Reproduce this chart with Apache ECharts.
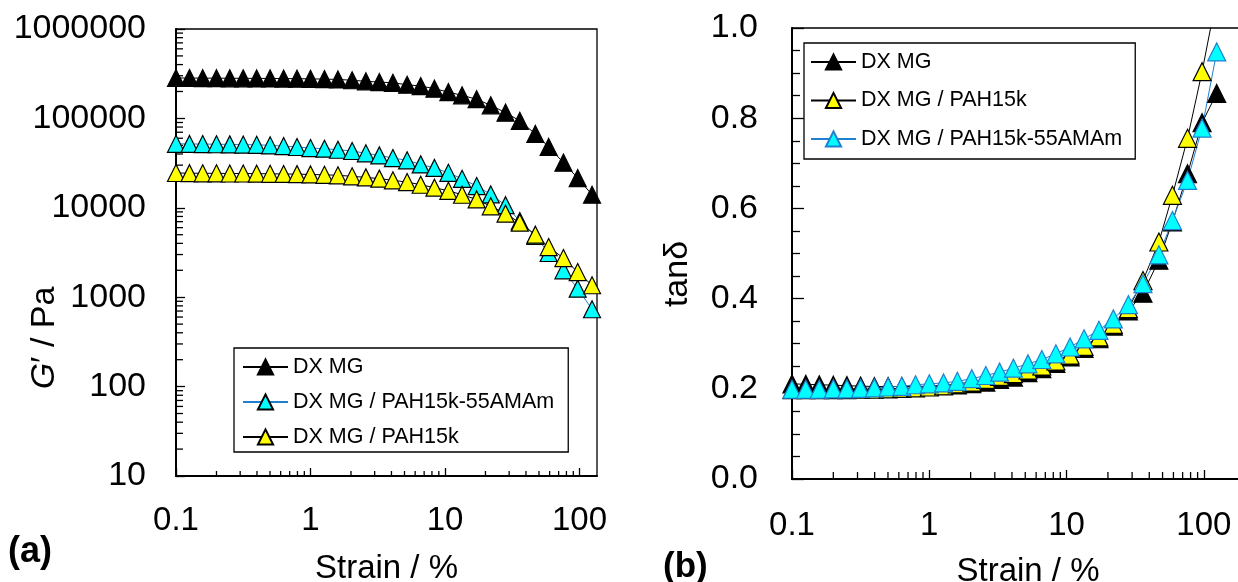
<!DOCTYPE html>
<html>
<head>
<meta charset="utf-8">
<script src="https://cdn.jsdelivr.net/npm/echarts@6/dist/echarts.min.js"></script>
<style>
html, body { margin: 0; padding: 0; background: #fff; }
#chart { width: 1238px; height: 582px; }
</style>
</head>
<body>
<div id="chart"></div>
<script>
// strain values (%), same grid for both panels
var strain = [0.1, 0.126, 0.158, 0.2, 0.251, 0.316, 0.398, 0.501, 0.631, 0.794,
	1.0, 1.27, 1.6, 2.04, 2.58, 3.25, 4.1, 5.23, 6.6, 8.35,
	10.6, 13.4, 17.2, 21.9, 28.2, 36, 47, 59, 76, 97, 124];

// (a) G' / Pa
var gDxmg = [283000, 283000, 282000, 282000, 281000, 281000, 280000, 280000, 279000, 278000,
	277000, 275000, 273000, 267000, 260000, 255000, 250000, 238000, 230000, 215000,
	197000, 181000, 164000, 140000, 116000, 94000, 67000, 48000, 32000, 21500, 14000];
var gAmam = [52000, 51800, 51600, 51400, 51200, 51000, 50600, 50000, 49000, 47900,
	46600, 45800, 44600, 43200, 40700, 38600, 36000, 34000, 30600, 27900,
	24600, 21100, 17500, 14100, 10700, 7100, 4840, 3120, 2000, 1245, 733];
var gPah = [24500, 24400, 24300, 24300, 24200, 24200, 24100, 24000, 23900, 23800,
	23600, 23400, 23100, 22500, 21900, 21200, 20300, 19400, 18100, 16800,
	15500, 14000, 12400, 10400, 8590, 6810, 5000, 3640, 2740, 1910, 1360];

// (b) tan delta
var tDxmg = [0.211, 0.210, 0.209, 0.208, 0.207, 0.206, 0.205, 0.205, 0.205, 0.205,
	0.206, 0.2077, 0.2084, 0.2113, 0.215, 0.221, 0.226, 0.2357, 0.2446, 0.2565,
	0.2705, 0.2897, 0.311, 0.339, 0.3725, 0.412, 0.485, 0.57, 0.677, 0.79, 0.855];
var tPah = [0.198, 0.198, 0.198, 0.198, 0.198, 0.199, 0.199, 0.200, 0.201, 0.202,
	0.204, 0.2065, 0.211, 0.215, 0.221, 0.2277, 0.2335, 0.2417, 0.2505, 0.2616,
	0.275, 0.294, 0.315, 0.343, 0.3776, 0.44, 0.5255, 0.629, 0.7554, 0.9031, 1.07];
var tAmam = [0.199, 0.199, 0.199, 0.200, 0.200, 0.201, 0.202, 0.204, 0.2055, 0.209,
	0.211, 0.213, 0.2166, 0.2225, 0.2295, 0.237, 0.2457, 0.2553, 0.265, 0.2775,
	0.2927, 0.3108, 0.3296, 0.355, 0.3866, 0.433, 0.497, 0.573, 0.662, 0.778, 0.947];

// log minor tick positions
var strainMinor = [0.2, 0.3, 0.4, 0.5, 0.6, 0.7, 0.8, 0.9, 2, 3, 4, 5, 6, 7, 8, 9,
	20, 30, 40, 50, 60, 70, 80, 90, 200];
var gDecades = [10, 100, 1000, 10000, 100000];

var FONT = "'Liberation Sans', Arial, sans-serif";
var BLUE = '#1f80d0';
var names = ['DX MG', 'DX MG / PAH15k-55AMAm', 'DX MG / PAH15k'];

function pairs(xs, ys) {
	return xs.map(function (x, i) { return [x, ys[i]]; });
}

function lineSeries(name, gi, ys, fill, border, lineColor) {
	return {
		name: name,
		type: 'line',
		xAxisIndex: gi,
		yAxisIndex: gi,
		data: pairs(strain, ys),
		symbol: 'triangle',
		symbolSize: gi ? 18 : 17,
		itemStyle: { color: fill, borderColor: border, borderWidth: 1.2 },
		lineStyle: { color: lineColor, width: 1 },
		emphasis: { disabled: true },
		clip: true
	};
}

// minor ticks on log axes, drawn through the axis coordinates
function tickSeries(gi, pts, dir, len) {
	return {
		type: 'custom',
		xAxisIndex: gi,
		yAxisIndex: gi,
		data: pts,
		silent: true,
		clip: false,
		z: 3,
		renderItem: function (params, api) {
			var p = api.coord([api.value(0), api.value(1)]);
			var x2 = dir == 'x' ? p[0] : p[0] + len;
			var y2 = dir == 'x' ? p[1] - len : p[1];
			return {
				type: 'line',
				shape: { x1: p[0], y1: p[1], x2: x2, y2: y2 },
				style: { stroke: '#000', lineWidth: 1.3 }
			};
		}
	};
}

var gMinor = [];
gDecades.forEach(function (d) {
	for (var m = 2; m <= 9; m++) gMinor.push([0.1, m * d]);
});

function logLabel(v) {
	return String(+(+v).toPrecision(4));
}

function axisCommon(fontSize, margin, tickLen) {
	return {
		axisLine: { show: true, lineStyle: { color: '#000', width: 2 } },
		axisTick: { show: true, inside: true, length: tickLen, lineStyle: { color: '#000', width: 1.3 } },
		axisLabel: { color: '#000', fontSize: fontSize, fontFamily: FONT, margin: margin },
		splitLine: { show: false }
	};
}

var xA = axisCommon(33, 28, 8);
xA.type = 'log'; xA.logBase = 10; xA.min = 0.1; xA.max = 135; xA.gridIndex = 0;
xA.axisLabel.formatter = logLabel; xA.axisLabel.showMaxLabel = false;
xA.name = 'Strain / %'; xA.nameLocation = 'middle'; xA.nameGap = 76;
xA.nameTextStyle = { color: '#000', fontSize: 33, fontFamily: FONT };

var yA = axisCommon(34, 30, 9);
yA.type = 'log'; yA.logBase = 10; yA.min = 10; yA.max = 1000000; yA.gridIndex = 0;
yA.axisLabel.formatter = logLabel;

var xB = axisCommon(33, 30, 9);
xB.type = 'log'; xB.logBase = 10; xB.min = 0.1; xB.max = 274; xB.gridIndex = 1;
xB.axisLabel.formatter = logLabel; xB.axisLabel.showMaxLabel = false;
xB.name = 'Strain / %'; xB.nameLocation = 'middle'; xB.nameGap = 76;
xB.nameTextStyle = { color: '#000', fontSize: 33, fontFamily: FONT };

var yB = axisCommon(34, 34, 12);
yB.type = 'value'; yB.min = 0; yB.max = 1; yB.interval = 0.2; yB.gridIndex = 1;
yB.axisLabel.formatter = function (v) { return v.toFixed(1); };
yB.minorTick = { show: true, splitNumber: 4, length: 8, lineStyle: { color: '#000', width: 1.3 } };

var legendText = { color: '#000', fontSize: 21.5, fontFamily: FONT };

var option = {
	animation: false,
	backgroundColor: '#fff',
	grid: [
		{ left: 176, top: 29, width: 421, height: 447, show: true, borderColor: '#000', borderWidth: 1.3, outerBoundsMode: 'none' },
		{ left: 792, top: 28, width: 472, height: 451, show: true, borderColor: '#000', borderWidth: 1.3, outerBoundsMode: 'none' }
	],
	xAxis: [xA, xB],
	yAxis: [yA, yB],
	legend: [{
		left: 234, top: 348, orient: 'vertical',
		itemWidth: 45, itemHeight: 19, itemGap: 13,
		padding: [8, 14, 4, 8],
		borderColor: '#000', borderWidth: 1.3,
		selectedMode: false,
		textStyle: legendText,
		data: names
	}, {
		left: 804, top: 43, orient: 'vertical',
		itemWidth: 45, itemHeight: 19, itemGap: 16.5,
		padding: [8, 13, 9, 6],
		borderColor: '#000', borderWidth: 1.3,
		selectedMode: false,
		textStyle: legendText,
		data: ['DX MG', 'DX MG / PAH15k', { name: 'DX MG / PAH15k-55AMAm', itemStyle: { borderColor: BLUE } }]
	}],
	graphic: [
		{ type: 'text', x: 45, y: 338, rotation: Math.PI / 2,
			style: { text: '{i|G}{n|\u2032 / Pa}', align: 'center', verticalAlign: 'middle', fill: '#000',
				fontSize: 34, fontFamily: FONT,
				rich: { i: { fontStyle: 'italic', fontSize: 34, fontFamily: FONT, fill: '#000' },
					n: { fontSize: 34, fontFamily: FONT, fill: '#000' } } } },
		{ type: 'text', x: 678, y: 274, rotation: Math.PI / 2,
			style: { text: 'tan\u03b4', align: 'center', verticalAlign: 'middle', fill: '#000', fontSize: 34, fontFamily: FONT } },
		{ type: 'text', x: 8, y: 552,
			style: { text: '(a)', align: 'left', verticalAlign: 'middle', fill: '#000', fontSize: 36, fontWeight: 'bold', fontFamily: FONT } },
		{ type: 'text', x: 663, y: 567,
			style: { text: '(b)', align: 'left', verticalAlign: 'middle', fill: '#000', fontSize: 35, fontWeight: 'bold', fontFamily: FONT } }
	],
	series: [
		lineSeries(names[0], 0, gDxmg, '#000', '#000', '#000'),
		lineSeries(names[1], 0, gAmam, '#00ffff', '#000', BLUE),
		lineSeries(names[2], 0, gPah, '#ffff00', '#000', '#000'),
		lineSeries(names[0], 1, tDxmg, '#000', '#000', '#000'),
		lineSeries(names[2], 1, tPah, '#ffff00', '#000', '#000'),
		lineSeries(names[1], 1, tAmam, '#00ffff', BLUE, BLUE),
		tickSeries(0, strainMinor.filter(function (v) { return v < 135; }).map(function (v) { return [v, 10]; }), 'x', 5),
		tickSeries(0, gMinor, 'y', 7),
		tickSeries(1, strainMinor.map(function (v) { return [v, 0]; }), 'x', 7)
	]
};

var chart = echarts.init(document.getElementById('chart'));
chart.setOption(option);
</script>
</body>
</html>
